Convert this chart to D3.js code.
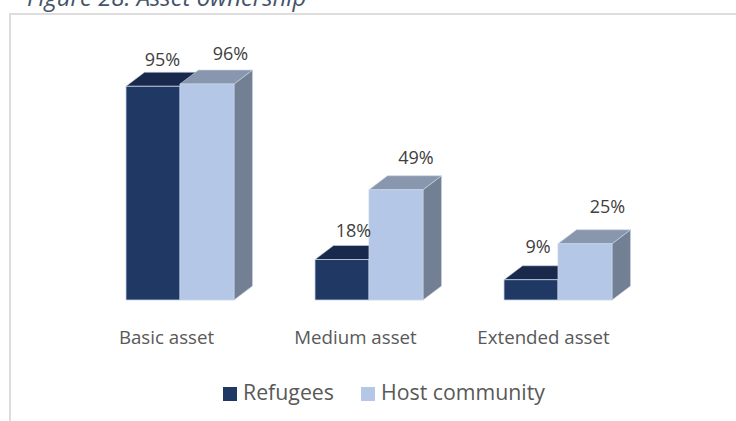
<!DOCTYPE html>
<html><head><meta charset="utf-8">
<script src="https://cdn.jsdelivr.net/npm/d3@7/dist/d3.min.js"></script>
<style>html,body{margin:0;padding:0;background:#fff;overflow:hidden}svg{display:block}text{font-family:"Open Sans",sans-serif}</style>
</head><body><svg id="c" width="736" height="421"></svg>
<script>
const categories = ["Basic asset", "Medium asset", "Extended asset"];
const seriesNames = ["Refugees", "Host community"];
const refugees = [95, 18, 9];
const hostCommunity = [96, 49, 25];

const svg = d3.select("#c");
const colors = {
  Refugees: {front:"#1f3864", top:"#19294b", side:"#19294b"},
  "Host community": {front:"#b4c7e7", top:"#8997ae", side:"#737f93"}
};
// label placement tweaks, [dx from bar centre, dy above the top face]
const nudges = {
  Refugees: [[9.5,6],[11.5,8.5],[7,12.75]],
  "Host community": [[23.5,10],[20,12],[22.5,16.75]]
};
const baseY = 300, depthX = 18.5, depthY = 14;
const x0 = d3.scaleBand().domain(categories).range([85.5,652.5]).paddingInner(81/189).paddingOuter(81/378);
const x1 = d3.scaleBand().domain(seriesNames).range([0,x0.bandwidth()]);
const y = d3.scaleLinear().domain([0,100]).range([baseY,baseY-225]);

// frame
svg.append("path").attr("d","M10 421V14H736").attr("fill","none").attr("stroke","#dddddd").attr("stroke-width",2);
svg.append("text").attr("x",27).attr("y",6).attr("font-size",23.9).attr("font-style","italic").attr("fill","#44546a").text("Figure 28: Asset ownership");

const values = {Refugees: refugees, "Host community": hostCommunity};
const poly = pts => pts.map(p=>p.join(",")).join(" ");
const stroke = "#c9d3e6";
seriesNames.forEach(name=>{
  const g = svg.append("g");
  const c = colors[name];
  categories.forEach((cat,i)=>{
    const v = values[name][i];
    const l = x0(cat)+x1(name), r = l+x1.bandwidth(), t = y(v);
    g.append("polygon").attr("points",poly([[r,t],[r+depthX,t-depthY],[r+depthX,baseY-depthY],[r,baseY]])).attr("fill",c.side).attr("stroke",stroke).attr("stroke-width",.6);
    g.append("polygon").attr("points",poly([[l,t],[l+depthX,t-depthY],[r+depthX,t-depthY],[r,t]])).attr("fill",c.top).attr("stroke",stroke).attr("stroke-width",.6);
    g.append("rect").attr("x",l).attr("y",t).attr("width",r-l).attr("height",baseY-t).attr("fill",c.front).attr("stroke",stroke).attr("stroke-width",.8);
  });
});
// data labels
seriesNames.forEach(name=>{
  categories.forEach((cat,i)=>{
    const v = values[name][i], n = nudges[name][i];
    svg.append("text").attr("x",x0(cat)+x1(name)+x1.bandwidth()/2+n[0]).attr("y",y(v)-depthY-n[1])
      .attr("text-anchor","middle").attr("font-size",18).attr("fill","#404040").text(v+"%");
  });
});
// category labels
const catCx = [166.5, 355.5, 543.5];
categories.forEach((cat,i)=>{
  svg.append("text").attr("x",catCx[i]).attr("y",344).attr("text-anchor","middle").attr("font-size",18.7).attr("fill","#595959").text(cat);
});
// legend
const legend = [{x:223,tx:243},{x:361,tx:381}];
seriesNames.forEach((name,i)=>{
  svg.append("rect").attr("x",legend[i].x).attr("y",387).attr("width",14).attr("height",14).attr("fill",colors[name].front);
  svg.append("text").attr("x",legend[i].tx).attr("y",400).attr("font-size",21.3).attr("fill","#595959").text(name);
});
</script></body></html>
